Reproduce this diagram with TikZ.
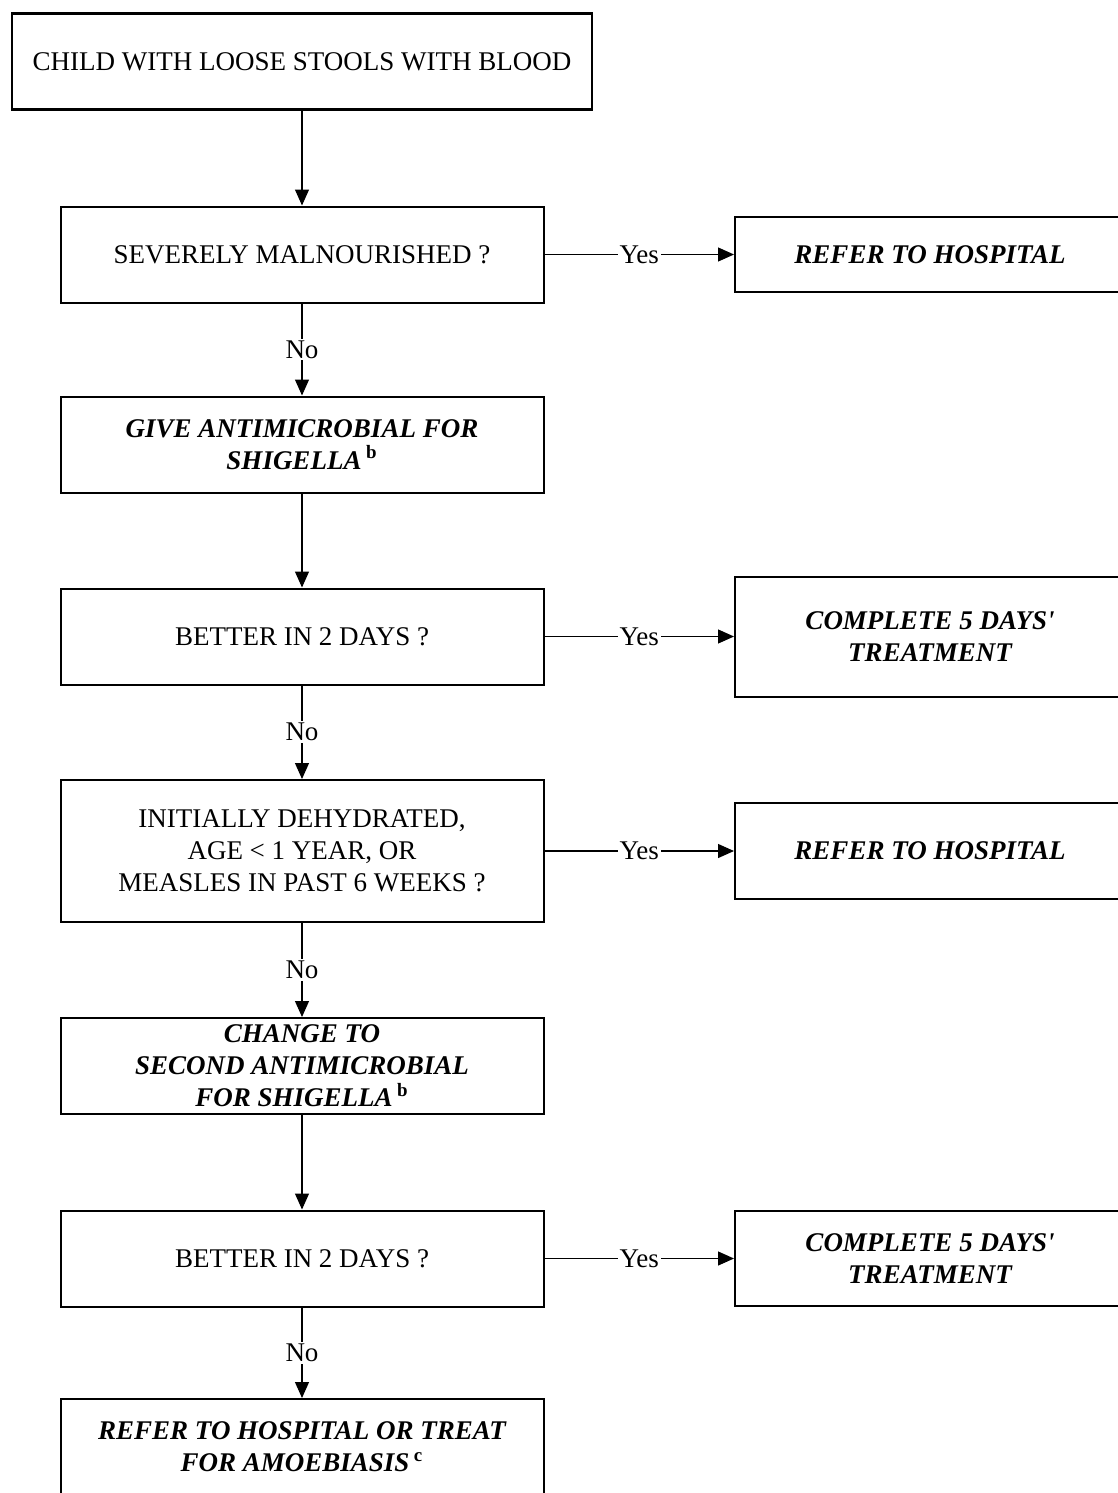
\documentclass[tikz,border=0pt]{standalone}
\usepackage{fontspec}
\setmainfont{Liberation Serif}
\usetikzlibrary{arrows.meta}
\tikzstyle{quest} = [rectangle, draw, line width=1pt, minimum width=241.5pt, minimum height=48pt, inner sep=2pt, align=center, font=\fontsize{13.5}{16}\selectfont]
\tikzstyle{act} = [quest, font=\fontsize{13.5}{16}\selectfont\bfseries\itshape]
\tikzstyle{outcome} = [act, minimum width=195pt]
\tikzstyle{answer} = [fill=white, inner sep=1pt, font=\fontsize{13.5}{15}\selectfont]
\newcommand{\fnmark}[1]{\,\textup{\textsuperscript{#1}}}

\begin{document}
\begin{tikzpicture}[->,>={Triangle[width=7pt,length=8pt]},semithick,x=0.5pt,y=-0.5pt]
  \clip (0,0) rectangle (1118,1493);
  \node[quest, line width=1.3pt, minimum width=290pt] (child) at (302,61.5) {CHILD WITH LOOSE STOOLS WITH BLOOD};
  \node[quest] (malnour) [below of=child, node distance=96.5pt] {SEVERELY MALNOURISHED ?};
  \node[act] (give) [below of=malnour, node distance=95pt] {GIVE ANTIMICROBIAL FOR\\SHIGELLA\fnmark{b}};
  \node[quest] (better_eins) [below of=give, node distance=96pt] {BETTER IN 2 DAYS ?};
  \node[quest, minimum height=71pt] (dehyd) [below of=better_eins, node distance=107.25pt] {INITIALLY DEHYDRATED,\\AGE \textless{} 1 YEAR, OR\\MEASLES IN PAST 6 WEEKS ?};
  \node[act, inner sep=1pt] (change) [below of=dehyd, node distance=107.5pt] {CHANGE TO\\SECOND ANTIMICROBIAL\\FOR SHIGELLA\fnmark{b}};
  \node[quest] (better_zwei) [below of=change, node distance=96.25pt] {BETTER IN 2 DAYS ?};
  \node[act] (amoeb) [below of=better_zwei, node distance=94.25pt] {REFER TO HOSPITAL OR TREAT\\FOR AMOEBIASIS\fnmark{c}};

  \node[outcome, minimum height=37.5pt] (refer_eins) [right of=malnour, node distance=314pt] {REFER TO HOSPITAL};
  \node[outcome, minimum height=60pt] (complete_eins) [right of=better_eins, node distance=314pt] {COMPLETE 5 DAYS\textquotesingle\\TREATMENT};
  \node[outcome] (refer_zwei) [right of=dehyd, node distance=314pt] {REFER TO HOSPITAL};
  \node[outcome, minimum height=47.5pt] (complete_zwei) [right of=better_zwei, node distance=314pt] {COMPLETE 5 DAYS\textquotesingle\\TREATMENT};

  \path (child) edge (malnour);
  \path (malnour) edge node[answer] {Yes} (refer_eins);
  \path (malnour) edge node[answer] {No} (give);
  \path (give) edge (better_eins);
  \path (better_eins) edge node[answer] {Yes} (complete_eins);
  \path (better_eins) edge node[answer] {No} (dehyd);
  \path (dehyd) edge node[answer] {Yes} (refer_zwei);
  \path (dehyd) edge node[answer] {No} (change);
  \path (change) edge (better_zwei);
  \path (better_zwei) edge node[answer] {Yes} (complete_zwei);
  \path (better_zwei) edge node[answer] {No} (amoeb);
\end{tikzpicture}
\end{document}
